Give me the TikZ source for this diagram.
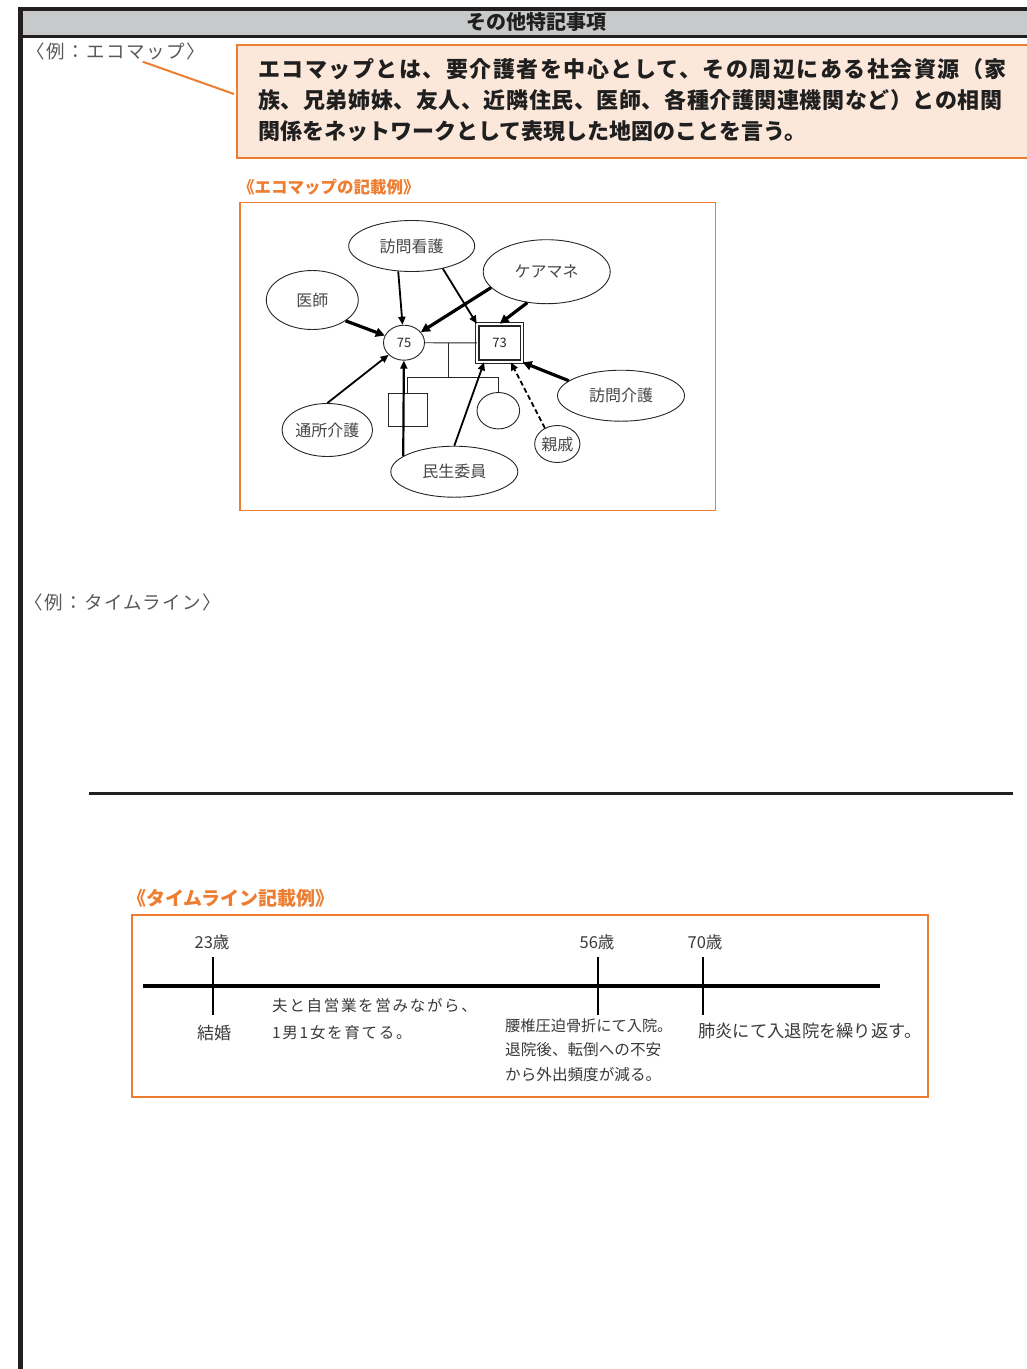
\documentclass[tikz,border=0pt]{standalone}
\usepackage{fontspec}
\setmainfont{Noto Sans CJK JP}
\newfontfamily\jpls[LetterSpace=6.8]{Noto Sans CJK JP}
\newfontfamily\jplsb[LetterSpace=2.6]{Noto Sans CJK JP}
\newfontfamily\jplsw[LetterSpace=8]{Noto Sans CJK JP}
\newfontfamily\jplst[LetterSpace=11]{Noto Sans CJK JP}
\usetikzlibrary{shapes.geometric,arrows.meta}
\definecolor{org}{HTML}{ED7D31}
\definecolor{peach}{HTML}{FCE8DA}
\definecolor{hdr}{HTML}{C8C9CB}
\definecolor{ink}{HTML}{231F20}
\definecolor{txtg}{HTML}{3A3A3A}
\begin{document}
\begin{tikzpicture}[x=1pt,y=-1pt,
  eco/.style={ellipse,draw=black!85,line width=0.9pt,inner sep=0pt,text=black!72,font=\fontsize{16}{16}\selectfont},
  arr/.style={line width=1.8pt,-{Triangle[length=8pt,width=7pt]}},
  arrb/.style={line width=3.2pt,-{Triangle[length=9pt,width=9pt]}},
  tl/.style={inner sep=0pt,text=txtg,font=\fontsize{15.5}{15.5}\selectfont},
  lab/.style={inner sep=0pt,text=black!65,font=\fontsize{18.5}{18.5}\selectfont\jplsw,anchor=west},
  otitle/.style={inner sep=0pt,text=org,anchor=west,font=\bfseries},
  frame/.style={draw=org,line width=1.1pt}
]
\useasboundingbox[fill=white] (0,0) rectangle (1027,1369);
% header
\fill[hdr] (20,10.7) rectangle (1027,35);
\draw[ink,line width=4pt] (18,8.7) -- (1027,8.7);
\draw[ink,line width=3.3pt] (20,36.7) -- (1027,36.7);
\draw[ink,line width=5pt] (20.5,6.7) -- (20.5,1369);
\node[inner sep=0pt,text=black!88,font=\fontsize{20}{20}\selectfont\bfseries] (head) at (536,22) {その他特記事項};

% ecomap label and callout
\node[lab] (execo) at (26,51) {〈例：エコマップ〉};
\node[draw=org,fill=peach,line width=2pt,minimum width=800pt,minimum height=112.4pt,anchor=north west,inner sep=0pt] (callout) at (236,44.3) {};
\coordinate (lp) at (142.7,61.7);
\coordinate (cp) at (234,94);
\draw[org,line width=2pt] (lp) -- (cp);
\node[inner sep=0pt,anchor=west,text=black!88,font=\fontsize{22}{22}\selectfont\bfseries\jpls] (cl1) at (258,69) {エコマップとは、要介護者を中心として、その周辺にある社会資源（家};
\node[inner sep=0pt,anchor=west,text=black!88,font=\fontsize{22}{22}\selectfont\bfseries\jplsb] (cl2) at (258,100) {族、兄弟姉妹、友人、近隣住民、医師、各種介護関連機関など）との相関};
\node[inner sep=0pt,anchor=west,text=black!88,font=\fontsize{22}{22}\selectfont\bfseries] (cl3) at (258,131) {関係をネットワークとして表現した地図のことを言う。};

% ecomap
\node[otitle,font=\fontsize{16.5}{16.5}\selectfont\bfseries] (ecotitle) at (238,187.3) {《エコマップの記載例》};
\draw[frame] (240,202.5) rectangle (715.5,510.5);

\node[eco,minimum width=126pt,minimum height=51pt] (hk) at (411.7,246) {訪問看護};
\node[eco,minimum width=127pt,minimum height=64pt] (cm) at (546.7,271.7) {ケアマネ};
\node[eco,minimum width=92pt,minimum height=59pt] (dr) at (312.3,300) {医師};
\node[eco,minimum width=41pt,minimum height=35pt,font=\fontsize{13}{13}\selectfont,text=black!85] (n75) at (404,342.7) {75};
\node[rectangle,draw=black!85,line width=1.2pt,double,double distance=2.2pt,minimum width=44.7pt,minimum height=37.4pt,inner sep=0pt,font=\fontsize{13}{13}\selectfont,text=black!85] (n73) at (499.7,343) {73};
\node[eco,minimum width=127pt,minimum height=51pt] (hv) at (621,395.7) {訪問介護};
\node[eco,minimum width=79pt,minimum height=53pt] (ds) at (327.3,430) {通所介護};
\node[eco,minimum width=127pt,minimum height=51pt] (mi) at (454.3,471.7) {民生委員};
\node[eco,minimum width=44pt,minimum height=37pt] (sh) at (557.3,444) {親戚};
\node[ellipse,draw=black!85,line width=0.9pt,minimum width=42.6pt,minimum height=36.4pt,inner sep=0pt] (dau) at (498.3,410.7) {};
\node[rectangle,draw=black!85,line width=0.9pt,minimum width=39.3pt,minimum height=33.4pt,inner sep=0pt] (son) at (407.7,410) {};

% family lines
\coordinate (mm) at (448.3,343);
\coordinate (cc) at (448.3,377.3);
\draw[line width=0.9pt,black!85] (n75) -- (n73);
\draw[line width=0.9pt,black!85] (mm) -- (cc);
\draw[line width=0.9pt,black!85] (son.north) |- (cc) -| (dau.north);

% arrows
\draw[arrb] (dr.328) -- (n75);
\draw[arr] (hk.242) -- (n75);
\draw[arr] (hk.324) -- (n73.north west);
\draw[arrb] (cm.196) -- (n75);
\draw[arrb] (cm.238) -- (n73.north);
\draw[arr] (ds.north) -- (n75);
\draw[arr,line width=2.2pt] (mi.163) -- (n75);
\draw[arr] (mi.north) -- (n73.231);
\draw[arr,dashed,dash pattern=on 5pt off 3pt] (sh.128) -- (n73.300);
\draw[arrb] (hv.164) -- (n73.south east);

% timeline section
\node[lab] (extl) at (24,602.5) {〈例：タイムライン〉};
\coordinate (dvA) at (89,793);
\coordinate (dvB) at (1013,793);
\draw[ink,line width=3pt] (dvA) -- (dvB);

\node[otitle,font=\fontsize{19}{19}\selectfont\bfseries] (tltitle) at (127,898) {《タイムライン記載例》};
\draw[frame] (132,915) rectangle (928,1097);

\coordinate (tlA) at (143,985.5);
\coordinate (tlB) at (880,985.5);
\draw[black,line width=4pt] (tlA) -- (tlB);
\foreach \x/\n in {213/a,598/b,703/c}{
  \coordinate (tk\n1) at (\x,957);
  \coordinate (tk\n2) at (\x,1015);
  \draw[black,line width=2.4pt] (tk\n1) -- (tk\n2);
}
\node[tl,font=\fontsize{16.5}{16.5}\selectfont] (a23) at (212,942) {23歳};
\node[tl,font=\fontsize{16.5}{16.5}\selectfont] (a56) at (597,942) {56歳};
\node[tl,font=\fontsize{16.5}{16.5}\selectfont] (a70) at (705,942) {70歳};
\node[tl,font=\fontsize{17}{17}\selectfont] (kekkon) at (214,1033) {結婚};
\node[tl,anchor=west,font=\fontsize{15.5}{15.5}\selectfont\jplst] (t1) at (272,1006) {夫と自営業を営みながら、};
\node[tl,anchor=west,font=\fontsize{15.5}{15.5}\selectfont\jplst] (t2) at (272,1033) {1男1女を育てる。};
\node[tl,anchor=west,font=\fontsize{15.2}{15.2}\selectfont] (t3) at (505,1026) {腰椎圧迫骨折にて入院。};
\node[tl,anchor=west,font=\fontsize{15.6}{15.6}\selectfont] (t4) at (505,1050) {退院後、転倒への不安};
\node[tl,anchor=west,font=\fontsize{15.6}{15.6}\selectfont] (t5) at (505,1075) {から外出頻度が減る。};
\node[tl,anchor=west,font=\fontsize{17.3}{17.3}\selectfont] (t6) at (698,1031) {肺炎にて入退院を繰り返す。};
\end{tikzpicture}
\end{document}
